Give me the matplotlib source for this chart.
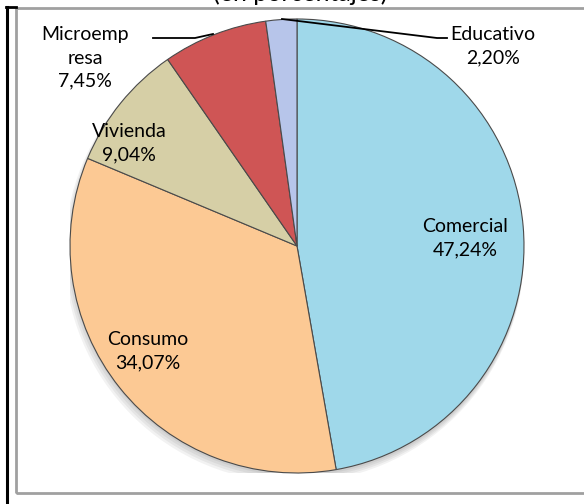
import matplotlib.pyplot as plt
from matplotlib.patches import Rectangle, Circle
from matplotlib.lines import Line2D

# data
categories = ["Comercial", "Consumo", "Vivienda", "Microemp\nresa", "Educativo"]
values = [47.24, 34.07, 9.04, 7.45, 2.20]
value_labels = ["47,24%", "34,07%", "9,04%", "7,45%", "2,20%"]
colors = ["#9fd8ea", "#fcc994", "#d6cfa6", "#cf5555", "#b7c5ea"]

plt.rcParams['font.family'] = ['Lato', 'DejaVu Sans']

W, H = 584, 504
fig = plt.figure(figsize=(W / 100, H / 100), dpi=100)
fig.patch.set_facecolor("white")

# frames (pixel coords -> figure fraction)
def fx(x):
    return x / W

def fy(y):
    return 1 - y / H

fig.add_artist(Rectangle((fx(15.5), fy(493)), fx(584 - 15.5) + 0.01, (493 - 7.5) / H,
                         transform=fig.transFigure, fill=False, edgecolor="#a0a0a0", lw=2))
fig.add_artist(Line2D([fx(6.5), fx(6.5)], [fy(7), 0], transform=fig.transFigure,
                      color="black", lw=2.2))
fig.add_artist(Line2D([fx(5.5), fx(16)], [fy(7), fy(7)], transform=fig.transFigure,
                      color="black", lw=2))

# title is cut by the top edge in the reference
fig.text(fx(300), fy(1), "(en porcentajes)", ha="center", va="baseline",
         fontsize=18, color="black")

# pie
cx, cy, r = 297, 246, 227
ax = fig.add_axes([fx(cx - r), fy(cy + r), 2 * r / W, 2 * r / H])
ax.axis("off")

for i, a in enumerate([0.05, 0.05, 0.05, 0.05]):
    ax.add_patch(Circle((-0.004 * i, -0.012 - 0.006 * i), 1.0 + 0.004 * i,
                        color="black", alpha=a, lw=0, zorder=0))

wedges, _ = ax.pie(values, colors=colors, startangle=90, counterclock=False,
                   radius=1.0, wedgeprops=dict(edgecolor="#4a4a4a", linewidth=0.8))
for w in wedges:
    w.set_zorder(2)
ax.set_xlim(-1, 1)
ax.set_ylim(-1, 1)
ax.set_aspect("equal")

def px(x, y):
    return ((x - cx) / r, (cy - y) / r)

fs = 14
ls = 1.45
ax.text(*px(465, 238), categories[0] + "\n" + value_labels[0], ha="center", va="center",
        fontsize=fs, linespacing=ls, zorder=5)
ax.text(*px(148, 351), categories[1] + "\n" + value_labels[1], ha="center", va="center",
        fontsize=fs, linespacing=ls, zorder=5)
ax.text(*px(129, 143), categories[2] + "\n" + value_labels[2], ha="center", va="center",
        fontsize=fs, linespacing=ls, zorder=5)
ax.text(*px(85, 58), categories[3] + "\n" + value_labels[3], ha="center", va="center",
        fontsize=fs, linespacing=ls, zorder=5, clip_on=False)
ax.text(*px(493, 46), categories[4] + "\n" + value_labels[4], ha="center", va="center",
        fontsize=fs, linespacing=ls, zorder=5, clip_on=False)

# leader lines
for pts in ([(153, 38), (195, 38), (213, 34)], [(282, 19), (437, 38), (447, 38)]):
    xs, ys = zip(*[px(*p) for p in pts])
    ax.plot(xs, ys, color="black", lw=1.3, zorder=6, clip_on=False)

fig.savefig("out.png", dpi=100, facecolor="white")
